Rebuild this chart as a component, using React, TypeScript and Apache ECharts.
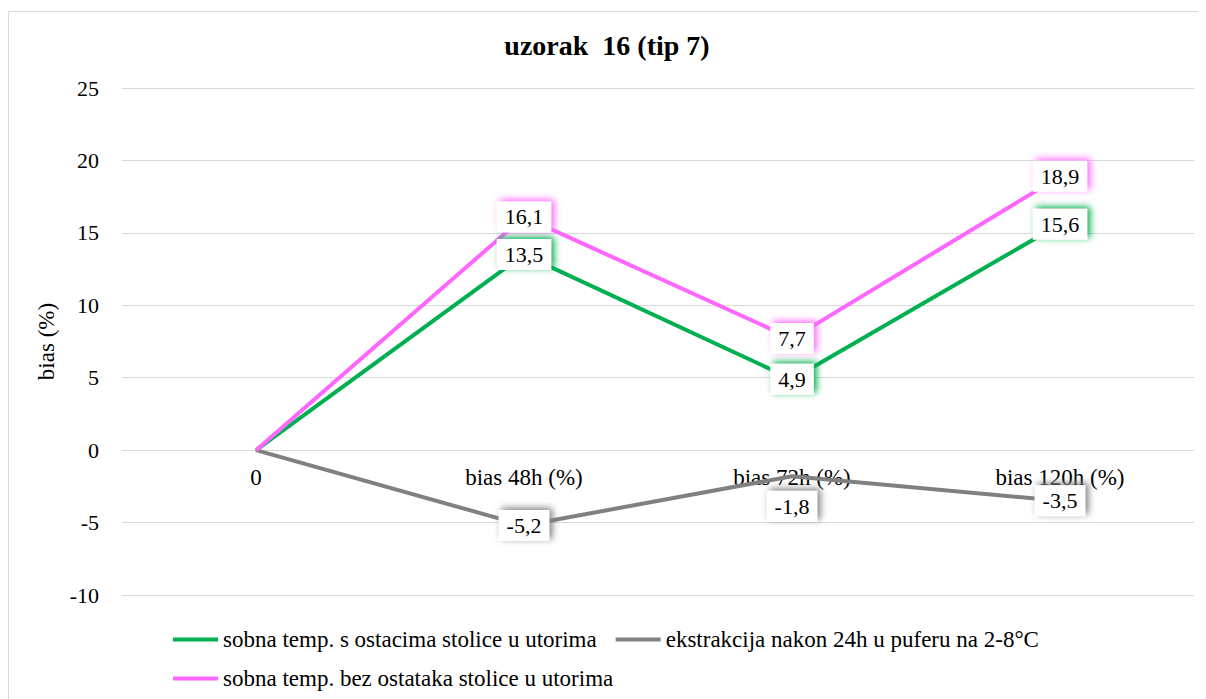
import React, { useEffect, useRef } from "react";
import * as echarts from "echarts";

const categories = ["0", "bias 48h (%)", "bias 72h (%)", "bias 120h (%)"];
const seriesNames = [
  "sobna temp. s ostacima stolice u utorima",
  "ekstrakcija nakon 24h u puferu na 2-8°C",
  "sobna temp. bez ostataka stolice u utorima",
];
const greenValues = [0, 13.5, 4.9, 15.6];
const grayValues = [0, -5.2, -1.8, -3.5];
const pinkValues = [0, 16.1, 7.7, 18.9];
const colors = ["#00B050", "#808080", "#FF66FF"];
const titleText = "uzorak  16 (tip 7)";
const yAxisName = "bias (%)";

const FONT = "Liberation Serif";

function labelFor(color: string) {
  return {
    show: true,
    position: "inside",
    fontFamily: FONT,
    fontSize: 22,
    color: "#000",
    backgroundColor: "#fff",
    padding: [5, 8, 4, 8],
    shadowColor: color,
    shadowBlur: 7,
    shadowOffsetX: 3,
    shadowOffsetY: -2,
    formatter: (p: any) => String(p.value).replace(".", ","),
  };
}

function buildData(values: number[], offsets?: Record<number, number[]>) {
  return values.map((v, i) => {
    if (i === 0) return { value: v, label: { show: false } };
    const item: any = { value: v };
    if (offsets && offsets[i]) item.label = { offset: offsets[i] };
    return item;
  });
}

export default function App() {
  const ref = useRef<HTMLDivElement>(null);
  useEffect(() => {
    if (!ref.current) return;
    const chart = echarts.init(ref.current, undefined, { renderer: "svg" });
    const mk = (name: string, values: number[], color: string, offsets?: Record<number, number[]>) => ({
      name,
      type: "line",
      data: buildData(values, offsets),
      symbol: "circle",
      symbolSize: 1,
      showSymbol: true,
      lineStyle: { color, width: 4 },
      itemStyle: { color },
      label: labelFor(color),
    });
    const gridTop = 80;
    const gridBottom = 104;
    const chartH = 691;
    const plotH = chartH - gridTop - gridBottom;
    const zeroY = gridTop + (25 / 35) * plotH;
    const xOffset = -((chartH - gridBottom) - zeroY);
    const legendBase = {
      left: 160,
      icon: "rect",
      itemWidth: 45,
      itemHeight: 4,
      itemGap: 19,
      textStyle: { fontFamily: FONT, fontSize: 23, color: "#000" },
    };
    chart.setOption({
      animation: false,
      textStyle: { fontFamily: FONT },
      graphic: [
        {
          type: "rect",
          shape: { x: 0.5, y: 3.5, width: 1196, height: 700 },
          style: { fill: "none", stroke: "#d9d9d9", lineWidth: 1 },
          silent: true,
        },
      ],
      title: {
        text: titleText,
        left: "center",
        top: 18,
        textStyle: { fontFamily: FONT, fontSize: 28, fontWeight: "bold", color: "#000" },
      },
      grid: { left: 114, right: 12, top: gridTop, bottom: gridBottom },
      legend: [
        { ...legendBase, top: 615, data: [seriesNames[0], seriesNames[1]] },
        { ...legendBase, top: 654, data: [seriesNames[2]] },
      ],
      xAxis: {
        type: "category",
        data: categories,
        boundaryGap: true,
        offset: xOffset,
        axisLine: { onZero: false, lineStyle: { color: "#d9d9d9", width: 1 } },
        axisTick: { show: false },
        axisLabel: { fontFamily: FONT, fontSize: 23, color: "#000", margin: 16 },
      },
      yAxis: {
        type: "value",
        min: -10,
        max: 25,
        interval: 5,
        name: yAxisName,
        nameLocation: "middle",
        nameGap: 64,
        nameRotate: 90,
        nameTextStyle: { fontFamily: FONT, fontSize: 23, color: "#000" },
        axisLine: { show: false },
        axisTick: { show: false },
        splitLine: { lineStyle: { color: "#d9d9d9", width: 1 } },
        axisLabel: { fontFamily: FONT, fontSize: 22, color: "#000", margin: 23 },
      },
      series: [
        mk(seriesNames[0], greenValues, colors[0]),
        mk(seriesNames[1], grayValues, colors[1], { 2: [0, 30] }),
        mk(seriesNames[2], pinkValues, colors[2]),
      ],
    });
    return () => chart.dispose();
  }, []);
  return <div ref={ref} style={{ width: 1198, height: 691 }} />;
}
